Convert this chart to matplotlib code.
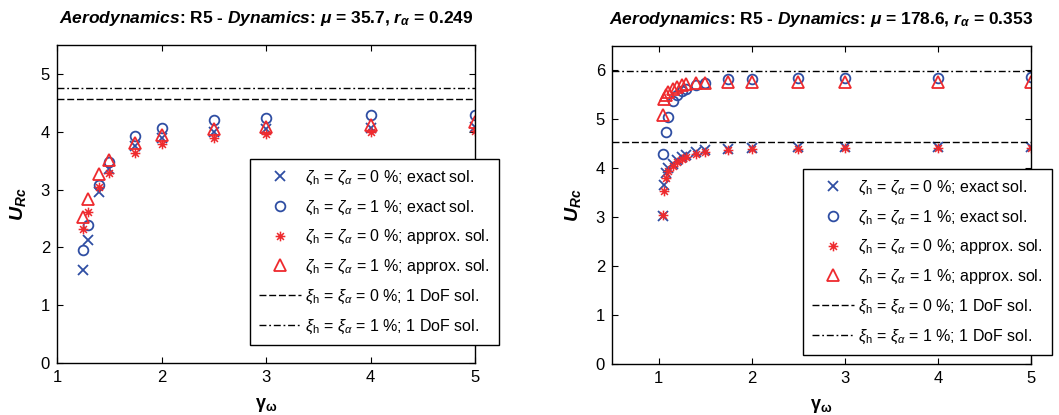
import numpy as np
import matplotlib
matplotlib.use("Agg")
import matplotlib.pyplot as plt
from matplotlib.lines import Line2D
from matplotlib.path import Path

plt.rcParams.update({
    "font.family": ["Liberation Sans", "DejaVu Sans"],
    "mathtext.fontset": "custom",
    "mathtext.rm": "Liberation Sans",
    "mathtext.it": "Liberation Sans:italic",
    "mathtext.bf": "Liberation Sans:bold",
    "mathtext.bfit": "Liberation Sans:italic:bold",
    "mathtext.sf": "Liberation Sans",
})

# ---- panel 1: mu = 35.7, r_alpha = 0.249 ----
gamma_1 = [1.25, 1.3, 1.4, 1.5, 1.75, 2.0, 2.5, 3.0, 4.0, 5.0]
exact_0_1 = [1.61, 2.12, 2.96, 3.36, 3.75, 3.90, 4.00, 4.05, 4.07, 4.08]
exact_1_1 = [1.95, 2.38, 3.08, 3.47, 3.92, 4.07, 4.20, 4.23, 4.29, 4.29]
approx_0_1 = [2.32, 2.61, 3.05, 3.29, 3.64, 3.78, 3.90, 3.96, 4.00, 4.01]
approx_1_1 = [2.53, 2.84, 3.27, 3.51, 3.81, 3.95, 4.04, 4.09, 4.12, 4.16]
dof_0_1 = 4.56
dof_1_1 = 4.76

# ---- panel 2: mu = 178.6, r_alpha = 0.353 ----
gamma_2 = [1.05, 1.06, 1.08, 1.1, 1.15, 1.2, 1.25, 1.3, 1.4, 1.5, 1.75, 2.0, 2.5, 3.0, 4.0, 5.0]
exact_0_2 = [3.03, 3.65, 3.91, 4.00, 4.08, 4.16, 4.24, 4.28, 4.33, 4.37, 4.40, 4.42, 4.43, 4.43, 4.43, 4.44]
exact_1_2 = [4.30, np.nan, 4.74, 5.05, 5.37, 5.50, 5.58, 5.63, 5.70, 5.75, 5.82, 5.82, 5.84, 5.85, 5.85, 5.87]
approx_0_2 = [3.05, 3.53, 3.80, 3.95, 4.05, 4.13, 4.19, 4.23, 4.29, 4.33, 4.38, 4.39, 4.40, 4.41, 4.41, 4.42]
approx_1_2 = [5.08, 5.41, 5.50, 5.56, 5.63, 5.67, 5.70, 5.72, 5.74, 5.75, 5.77, 5.77, 5.77, 5.77, 5.77, 5.77]
dof_0_2 = 4.53
dof_1_2 = 5.98

titles = [
    r"$\mathbfit{Aerodynamics}$: R5 - $\mathbfit{Dynamics}$: $\mathbfit{\mu}$ = 35.7, $\mathbfit{r}_{\mathbfit{\alpha}}$ = 0.249",
    r"$\mathbfit{Aerodynamics}$: R5 - $\mathbfit{Dynamics}$: $\mathbfit{\mu}$ = 178.6, $\mathbfit{r}_{\mathbfit{\alpha}}$ = 0.353",
]
labels = [
    r"$\zeta_{\mathrm{h}}$ = $\zeta_{\alpha}$ = 0 %; exact sol.",
    r"$\zeta_{\mathrm{h}}$ = $\zeta_{\alpha}$ = 1 %; exact sol.",
    r"$\zeta_{\mathrm{h}}$ = $\zeta_{\alpha}$ = 0 %; approx. sol.",
    r"$\zeta_{\mathrm{h}}$ = $\zeta_{\alpha}$ = 1 %; approx. sol.",
    r"$\xi_{\mathrm{h}}$ = $\xi_{\alpha}$ = 0 %; 1 DoF sol.",
    r"$\xi_{\mathrm{h}}$ = $\xi_{\alpha}$ = 1 %; 1 DoF sol.",
]

BLUE = "#2F4EA3"
RED = "#EE2A2E"
DASH = (0, (5, 2))
DASHDOT = (0, (5, 2, 1.3, 2))

# line-drawn asterisk: a "+" overlaid with an "x"
_d = np.sqrt(0.5)
ASTERISK = Path(
    [(-1, 0), (1, 0), (0, -1), (0, 1), (-_d, -_d), (_d, _d), (-_d, _d), (_d, -_d)],
    [Path.MOVETO, Path.LINETO] * 4,
)

W, H = 1059, 415
fig = plt.figure(figsize=(W / 100, H / 100), dpi=100)

panels = [
    dict(rect=[57, 45, 475, 363], gamma=gamma_1, e0=exact_0_1, e1=exact_1_1,
         a0=approx_0_1, a1=approx_1_1, d0=dof_0_1, d1=dof_1_1,
         xlim=(1, 5), ylim=(0, 5.5), yticks=[0, 1, 2, 3, 4, 5],
         leg=(499, 159), title=titles[0]),
    dict(rect=[612, 46, 1031, 364], gamma=gamma_2, e0=exact_0_2, e1=exact_1_2,
         a0=approx_0_2, a1=approx_1_2, d0=dof_0_2, d1=dof_1_2,
         xlim=(0.5, 5), ylim=(0, 6.5), yticks=[0, 1, 2, 3, 4, 5, 6],
         leg=(1052, 169), title=titles[1]),
]

lw_m = 1.3
styles = [
    dict(ls="none", marker="x", ms=6.5, mew=lw_m, color=BLUE),
    dict(ls="none", marker="o", ms=7, mew=lw_m, mfc="none", mec=BLUE),
    dict(ls="none", marker=ASTERISK, ms=7, mew=1.1, mfc="none", mec=RED),
    dict(ls="none", marker="^", ms=8.5, mew=lw_m, mfc="none", mec=RED),
]

for p in panels:
    x0, y0, x1, y1 = p["rect"]
    ax = fig.add_axes([x0 / W, 1 - y1 / H, (x1 - x0) / W, (y1 - y0) / H])
    for vals, st in zip([p["e0"], p["e1"], p["a0"], p["a1"]], styles):
        ax.plot(p["gamma"], vals, **st)
    ax.axhline(p["d0"], color="black", lw=1.0, ls=DASH)
    ax.axhline(p["d1"], color="black", lw=1.0, ls=DASHDOT)

    ax.set_xlim(*p["xlim"])
    ax.set_ylim(*p["ylim"])
    ax.set_xticks([1, 2, 3, 4, 5])
    ax.set_yticks(p["yticks"])
    ax.tick_params(direction="in", length=4, width=0.8, top=True, right=True,
                   labelsize=12, pad=5, color="black")
    for s in ax.spines.values():
        s.set_linewidth(1.0)

    ax.set_title(p["title"], fontsize=12.5, fontweight="bold", pad=16)
    ax.set_xlabel(r"$\mathbf{\gamma}_{\mathbf{\omega}}$", fontsize=13)
    ax.set_ylabel(r"$\mathbfit{U}_{\mathbfit{Rc}}$", fontsize=14)
    ax.xaxis.set_label_coords(0.5, -0.105)
    ax.yaxis.set_label_coords(-0.07, 0.5)

    handles = [Line2D([], [], **st) for st in styles] + [
        Line2D([], [], color="black", lw=1.0, ls=DASH),
        Line2D([], [], color="black", lw=1.0, ls=DASHDOT),
    ]
    lx, ly = p["leg"]
    leg = fig.legend(handles, labels, loc="upper right",
                     bbox_to_anchor=(lx / W, 1 - ly / H),
                     fontsize=11.5, frameon=True, fancybox=False, framealpha=1,
                     edgecolor="black", handlelength=2.6, handletextpad=0.25,
                     labelspacing=0.72, borderpad=0.6, borderaxespad=0)
    leg.get_frame().set_linewidth(1.0)

fig.savefig("out.png", dpi=100)
